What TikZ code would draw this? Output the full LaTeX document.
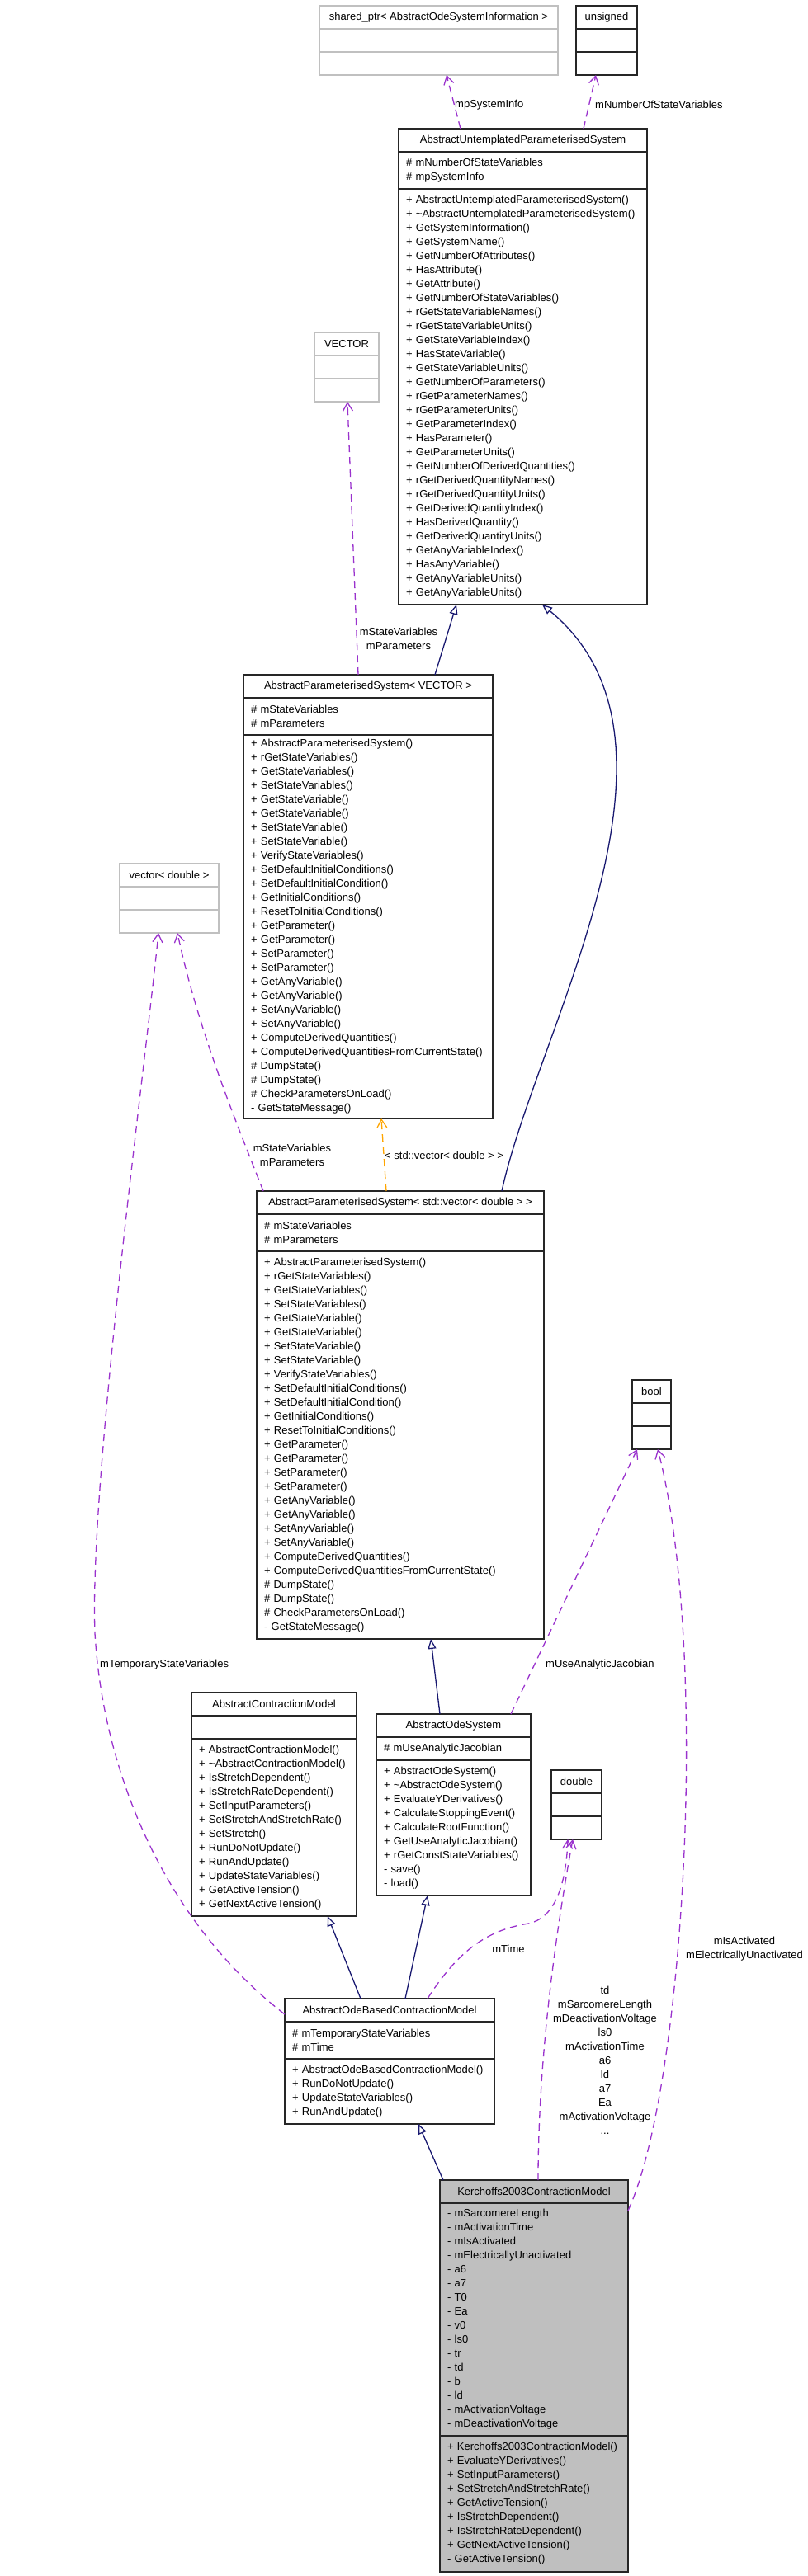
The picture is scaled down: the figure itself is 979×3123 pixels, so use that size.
\documentclass[tikz,border=0pt]{standalone}
\usepackage{fontspec}
\newfontfamily\dotfont{Liberation Sans}
\usepackage{tikz}
\usetikzlibrary{positioning,arrows.meta}
\definecolor{inhblue}{HTML}{191970}
\definecolor{usepurple}{HTML}{9A32CD}
\definecolor{tmplorange}{HTML}{FFA500}
\definecolor{ghostgray}{HTML}{C0C0C0}
\definecolor{kgray}{HTML}{BFBFBF}
\newcommand{\umlfont}{\dotfont\fontsize{13}{17}\selectfont\hyphenpenalty=10000\relax}
\tikzset{
  hd/.style={draw=black!85, line width=1.3pt, inner sep=0pt, outer sep=0pt, anchor=north west, minimum height=28pt, font=\umlfont},
  pt/.style={draw=black!85, line width=1.3pt, inner xsep=9pt, inner ysep=0pt, outer sep=0pt, align=left, font=\umlfont},
  ghost/.style={draw=ghostgray},
  inh/.style={draw=inhblue, line width=1.3pt, -{Triangle[open,length=12pt,width=10pt]}},
  uses/.style={draw=usepurple, line width=1.3pt, dash pattern=on 9pt off 6pt, -{Straight Barb[length=10pt,width=12pt]}},
  tmpl/.style={uses, draw=tmplorange},
  lbl/.style={font=\umlfont, inner sep=0pt, align=center}
}

\begin{document}
\begin{tikzpicture}[x=1pt,y=-1pt]
\useasboundingbox (0,0) rectangle (979,3123);

\node[hd, ghost, minimum width=289pt] (sp) at (387,7) {shared\_ptr< AbstractOdeSystemInformation >};
\node[pt, ghost, text width=271pt, minimum height=28pt, below=0pt of sp] (sp-a) {};
\node[pt, ghost, text width=271pt, minimum height=28pt, below=0pt of sp-a] (sp-m) {};

\node[hd, minimum width=74pt] (uns) at (698,7) {unsigned};
\node[pt, text width=56pt, minimum height=28pt, below=0pt of uns] (uns-a) {};
\node[pt, text width=56pt, minimum height=28pt, below=0pt of uns-a] (uns-m) {};

\node[hd, minimum width=301pt] (aups) at (483,156) {AbstractUntemplatedParameterisedSystem};
\node[pt, text width=283pt, minimum height=45pt, below=0pt of aups] (aups-a) {\#~mNumberOfStateVariables\\\#~mpSystemInfo};
\node[pt, text width=283pt, minimum height=504pt, below=0pt of aups-a] (aups-m) {+~AbstractUntemplatedParameterisedSystem()\\+~\textasciitilde AbstractUntemplatedParameterisedSystem()\\+~GetSystemInformation()\\+~GetSystemName()\\+~GetNumberOfAttributes()\\+~HasAttribute()\\+~GetAttribute()\\+~GetNumberOfStateVariables()\\+~rGetStateVariableNames()\\+~rGetStateVariableUnits()\\+~GetStateVariableIndex()\\+~HasStateVariable()\\+~GetStateVariableUnits()\\+~GetNumberOfParameters()\\+~rGetParameterNames()\\+~rGetParameterUnits()\\+~GetParameterIndex()\\+~HasParameter()\\+~GetParameterUnits()\\+~GetNumberOfDerivedQuantities()\\+~rGetDerivedQuantityNames()\\+~rGetDerivedQuantityUnits()\\+~GetDerivedQuantityIndex()\\+~HasDerivedQuantity()\\+~GetDerivedQuantityUnits()\\+~GetAnyVariableIndex()\\+~HasAnyVariable()\\+~GetAnyVariableUnits()\\+~GetAnyVariableUnits()};

\node[hd, ghost, minimum width=78pt] (vec) at (381,403) {VECTOR};
\node[pt, ghost, text width=60pt, minimum height=28pt, below=0pt of vec] (vec-a) {};
\node[pt, ghost, text width=60pt, minimum height=28pt, below=0pt of vec-a] (vec-m) {};

\node[hd, minimum width=302pt] (apsv) at (295,818) {AbstractParameterisedSystem< VECTOR >};
\node[pt, text width=284pt, minimum height=45pt, below=0pt of apsv] (apsv-a) {\#~mStateVariables\\\#~mParameters};
\node[pt, text width=284pt, minimum height=465pt, below=0pt of apsv-a] (apsv-m) {+~AbstractParameterisedSystem()\\+~rGetStateVariables()\\+~GetStateVariables()\\+~SetStateVariables()\\+~GetStateVariable()\\+~GetStateVariable()\\+~SetStateVariable()\\+~SetStateVariable()\\+~VerifyStateVariables()\\+~SetDefaultInitialConditions()\\+~SetDefaultInitialCondition()\\+~GetInitialConditions()\\+~ResetToInitialConditions()\\+~GetParameter()\\+~GetParameter()\\+~SetParameter()\\+~SetParameter()\\+~GetAnyVariable()\\+~GetAnyVariable()\\+~SetAnyVariable()\\+~SetAnyVariable()\\+~ComputeDerivedQuantities()\\+~ComputeDerivedQuantitiesFromCurrentState()\\\#~DumpState()\\\#~DumpState()\\\#~CheckParametersOnLoad()\\-~GetStateMessage()};

\node[hd, ghost, minimum width=120pt] (vecd) at (145,1047) {vector< double >};
\node[pt, ghost, text width=102pt, minimum height=28pt, below=0pt of vecd] (vecd-a) {};
\node[pt, ghost, text width=102pt, minimum height=28pt, below=0pt of vecd-a] (vecd-m) {};

\node[hd, minimum width=348pt] (apsd) at (311,1444) {AbstractParameterisedSystem< std::vector< double > >};
\node[pt, text width=330pt, minimum height=45pt, below=0pt of apsd] (apsd-a) {\#~mStateVariables\\\#~mParameters};
\node[pt, text width=330pt, minimum height=470pt, below=0pt of apsd-a] (apsd-m) {+~AbstractParameterisedSystem()\\+~rGetStateVariables()\\+~GetStateVariables()\\+~SetStateVariables()\\+~GetStateVariable()\\+~GetStateVariable()\\+~SetStateVariable()\\+~SetStateVariable()\\+~VerifyStateVariables()\\+~SetDefaultInitialConditions()\\+~SetDefaultInitialCondition()\\+~GetInitialConditions()\\+~ResetToInitialConditions()\\+~GetParameter()\\+~GetParameter()\\+~SetParameter()\\+~SetParameter()\\+~GetAnyVariable()\\+~GetAnyVariable()\\+~SetAnyVariable()\\+~SetAnyVariable()\\+~ComputeDerivedQuantities()\\+~ComputeDerivedQuantitiesFromCurrentState()\\\#~DumpState()\\\#~DumpState()\\\#~CheckParametersOnLoad()\\-~GetStateMessage()};

\node[hd, minimum width=47pt] (bool) at (766,1673) {bool};
\node[pt, text width=29pt, minimum height=28pt, below=0pt of bool] (bool-a) {};
\node[pt, text width=29pt, minimum height=28pt, below=0pt of bool-a] (bool-m) {};

\node[hd, minimum width=200pt] (acm) at (232,2052) {AbstractContractionModel};
\node[pt, text width=182pt, minimum height=28pt, below=0pt of acm] (acm-a) {};
\node[pt, text width=182pt, minimum height=215pt, below=0pt of acm-a] (acm-m) {+~AbstractContractionModel()\\+~\textasciitilde AbstractContractionModel()\\+~IsStretchDependent()\\+~IsStretchRateDependent()\\+~SetInputParameters()\\+~SetStretchAndStretchRate()\\+~SetStretch()\\+~RunDoNotUpdate()\\+~RunAndUpdate()\\+~UpdateStateVariables()\\+~GetActiveTension()\\+~GetNextActiveTension()};

\node[hd, minimum width=187pt] (aos) at (456,2078) {AbstractOdeSystem};
\node[pt, text width=169pt, minimum height=28pt, below=0pt of aos] (aos-a) {\#~mUseAnalyticJacobian};
\node[pt, text width=169pt, minimum height=164pt, below=0pt of aos-a] (aos-m) {+~AbstractOdeSystem()\\+~\textasciitilde AbstractOdeSystem()\\+~EvaluateYDerivatives()\\+~CalculateStoppingEvent()\\+~CalculateRootFunction()\\+~GetUseAnalyticJacobian()\\+~rGetConstStateVariables()\\-~save()\\-~load()};

\node[hd, minimum width=61pt] (dbl) at (668,2146) {double};
\node[pt, text width=43pt, minimum height=28pt, below=0pt of dbl] (dbl-a) {};
\node[pt, text width=43pt, minimum height=28pt, below=0pt of dbl-a] (dbl-m) {};

\node[hd, minimum width=254pt] (aobcm) at (345,2423) {AbstractOdeBasedContractionModel};
\node[pt, text width=236pt, minimum height=45pt, below=0pt of aobcm] (aobcm-a) {\#~mTemporaryStateVariables\\\#~mTime};
\node[pt, text width=236pt, minimum height=79pt, below=0pt of aobcm-a] (aobcm-m) {+~AbstractOdeBasedContractionModel()\\+~RunDoNotUpdate()\\+~UpdateStateVariables()\\+~RunAndUpdate()};

\node[hd, fill=kgray, minimum width=228pt] (kcm) at (533,2643) {Kerchoffs2003ContractionModel};
\node[pt, fill=kgray, text width=210pt, minimum height=282pt, below=0pt of kcm] (kcm-a) {-~mSarcomereLength\\-~mActivationTime\\-~mIsActivated\\-~mElectricallyUnactivated\\-~a6\\-~a7\\-~T0\\-~Ea\\-~v0\\-~ls0\\-~tr\\-~td\\-~b\\-~ld\\-~mActivationVoltage\\-~mDeactivationVoltage};
\node[pt, fill=kgray, text width=210pt, minimum height=165pt, below=0pt of kcm-a] (kcm-m) {+~Kerchoffs2003ContractionModel()\\+~EvaluateYDerivatives()\\+~SetInputParameters()\\+~SetStretchAndStretchRate()\\+~GetActiveTension()\\+~IsStretchDependent()\\+~IsStretchRateDependent()\\+~GetNextActiveTension()\\-~GetActiveTension()};

\draw[uses] ([xshift=-75.5pt]aups.north) -- ([xshift=9.5pt]sp-m.south);
\draw[uses] ([xshift=73.5pt]aups.north) -- ([xshift=-13pt]uns-m.south);
\draw[uses] ([xshift=-12pt]apsv.north) -- ([xshift=1pt]vec-m.south);
\draw[inh] ([xshift=81pt]apsv.north) -- ([xshift=-80.5pt]aups-m.south);
\draw[inh] ([xshift=123pt]apsd.north) .. controls (650,1250) and (860,900) .. ([xshift=23.5pt]aups-m.south);
\draw[tmpl] ([xshift=-17pt]apsd.north) -- ([xshift=16pt]apsv-m.south);
\draw[uses] ([xshift=-166pt]apsd.north) .. controls (290,1370) and (240,1250) .. ([xshift=10pt]vecd-m.south);
\draw[uses] ([yshift=-5pt]aobcm.west) .. controls (200,2330) and (125,2150) .. (115,1980) .. controls (108,1800) and (175,1300) .. ([xshift=-13pt]vecd-m.south);
\draw[inh] ([xshift=-16.5pt]aos.north) -- ([xshift=37pt]apsd-m.south);
\draw[uses] ([xshift=69.5pt]aos.north) -- ([xshift=-17.5pt]bool-m.south);
\draw[inh] ([xshift=-35pt]aobcm.north) -- ([xshift=65pt]acm-m.south);
\draw[inh] ([xshift=19pt]aobcm.north) -- ([xshift=-31.5pt]aos-m.south);
\draw[uses] ([xshift=46pt]aobcm.north) .. controls (555,2365) and (590,2340) .. (640,2332) .. controls (672,2326) and (686,2285) .. ([xshift=-10.5pt]dbl-m.south);
\draw[uses] ([xshift=5pt]kcm.north) .. controls (652,2500) and (672,2350) .. ([xshift=-4.5pt]dbl-m.south);
\draw[uses] ([yshift=-37pt]kcm.north east) .. controls (830,2530) and (860,2000) .. ([xshift=7.5pt]bool-m.south);
\draw[inh] ([xshift=-110pt]kcm.north) -- ([xshift=35pt]aobcm-m.south);

\node[lbl, anchor=west] (l-spi) at (551,127) {mpSystemInfo};
\node[lbl, anchor=west] (l-nsv) at (721,127) {mNumberOfStateVariables};
\node[lbl] (l-vec) at (483,774) {mStateVariables\\mParameters};
\node[lbl, anchor=west] (l-tmpl) at (466,1401) {< std::vector< double > >};
\node[lbl] (l-vecd) at (354,1400) {mStateVariables\\mParameters};
\node[lbl, anchor=west] (l-tsv) at (121,2018) {mTemporaryStateVariables};
\node[lbl, anchor=west] (l-uaj) at (661,2018) {mUseAnalyticJacobian};
\node[lbl] (l-time) at (616,2363) {mTime};
\node[lbl] (l-dbl) at (733,2498) {td\\mSarcomereLength\\mDeactivationVoltage\\ls0\\mActivationTime\\a6\\ld\\a7\\Ea\\mActivationVoltage\\...};
\node[lbl] (l-bool) at (902,2363) {mIsActivated\\mElectricallyUnactivated};
\end{tikzpicture}
\end{document}
